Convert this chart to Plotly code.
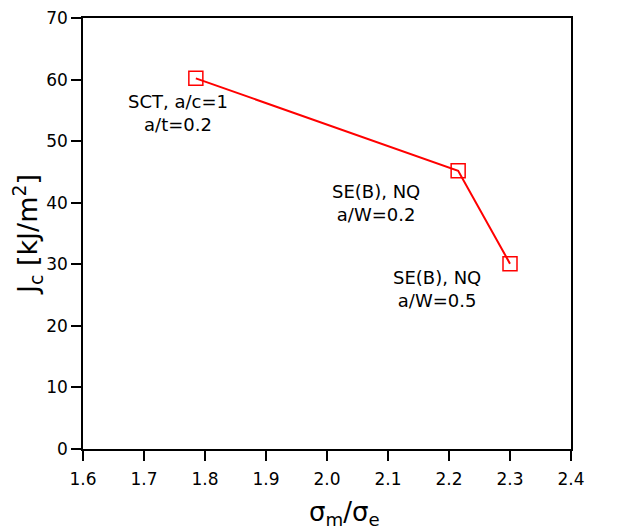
import plotly.graph_objects as go

x_vals = [1.785, 2.215, 2.30]
y_vals = [60.2, 45.2, 30.1]
ann_x = [1.755, 2.08, 2.18]
ann_y = [54.6, 40.0, 26.0]
ann_text = ["SCT, a/c=1<br>a/t=0.2", "SE(B), NQ<br>a/W=0.2", "SE(B), NQ<br>a/W=0.5"]
x_ticks = [1.6, 1.7, 1.8, 1.9, 2.0, 2.1, 2.2, 2.3, 2.4]
x_tick_labels = ["1.6", "1.7", "1.8", "1.9", "2.0", "2.1", "2.2", "2.3", "2.4"]
y_ticks = [0, 10, 20, 30, 40, 50, 60, 70]

font_family = "DejaVu Sans, Liberation Sans, sans-serif"

fig = go.Figure()
fig.add_trace(go.Scatter(
    x=x_vals, y=y_vals, mode="lines+markers",
    line=dict(color="red", width=2),
    marker=dict(symbol="square-open", size=14, color="red", line=dict(width=1.5, color="red")),
    showlegend=False,
))

for xa, ya, t in zip(ann_x, ann_y, ann_text):
    fig.add_annotation(x=xa, y=ya, text=t, showarrow=False,
                       font=dict(size=18, color="black", family=font_family),
                       align="center")

fig.add_annotation(xref="paper", yref="paper", x=0.535, y=-0.15,
                   text="σ<sub>m</sub>/σ<sub>e</sub>", showarrow=False,
                   xanchor="center", yanchor="middle",
                   font=dict(size=26, color="black", family=font_family))

fig.update_layout(
    width=621, height=530,
    margin=dict(l=75, r=58, t=10, b=89),
    paper_bgcolor="white", plot_bgcolor="white",
    font=dict(family=font_family, color="black"),
    xaxis=dict(range=[1.6, 2.4], tickvals=x_ticks, ticktext=x_tick_labels,
               automargin=False, ticklabeloverflow="allow", ticklabelstandoff=4,
               showgrid=False, zeroline=False, showline=True, linecolor="black", linewidth=1.5,
               mirror=True, ticks="outside", ticklen=10, tickwidth=1.5, tickcolor="black",
               tickfont=dict(size=17)),
    yaxis=dict(range=[0, 70], tickvals=y_ticks,
               automargin=False, ticklabeloverflow="allow",
               showgrid=False, zeroline=False, showline=True, linecolor="black", linewidth=1.5,
               mirror=True, ticks="outside", ticklen=10, tickwidth=1.5, tickcolor="black",
               tickfont=dict(size=17),
               title=dict(text="J<sub>c</sub> [kJ/m<sup>2</sup>]", font=dict(size=27), standoff=8)),
)

fig.write_html("out.html")
